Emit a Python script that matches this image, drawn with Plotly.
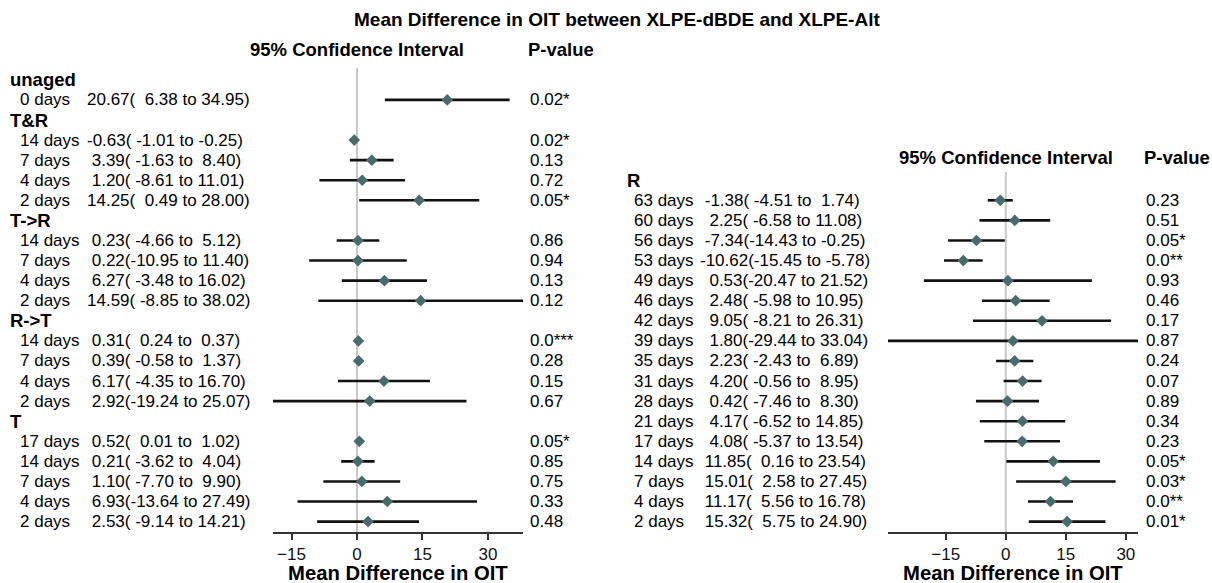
import plotly.graph_objects as go

W, H = 1212, 583
NB = "\u00a0"
FONT = "Liberation Sans, Arial, Helvetica, sans-serif"

# ---------------- Left panel data ----------------
unaged_days = ["0 days"]
unaged_est = [20.67]
unaged_lo = [6.38]
unaged_hi = [34.95]
unaged_p = ["0.02*"]

tr_days = ["14 days", "7 days", "4 days", "2 days"]
tr_est = [-0.63, 3.39, 1.20, 14.25]
tr_lo = [-1.01, -1.63, -8.61, 0.49]
tr_hi = [-0.25, 8.40, 11.01, 28.00]
tr_p = ["0.02*", "0.13", "0.72", "0.05*"]

t2r_days = ["14 days", "7 days", "4 days", "2 days"]
t2r_est = [0.23, 0.22, 6.27, 14.59]
t2r_lo = [-4.66, -10.95, -3.48, -8.85]
t2r_hi = [5.12, 11.40, 16.02, 38.02]
t2r_p = ["0.86", "0.94", "0.13", "0.12"]

r2t_days = ["14 days", "7 days", "4 days", "2 days"]
r2t_est = [0.31, 0.39, 6.17, 2.92]
r2t_lo = [0.24, -0.58, -4.35, -19.24]
r2t_hi = [0.37, 1.37, 16.70, 25.07]
r2t_p = ["0.0***", "0.28", "0.15", "0.67"]

t_days = ["17 days", "14 days", "7 days", "4 days", "2 days"]
t_est = [0.52, 0.21, 1.10, 6.93, 2.53]
t_lo = [0.01, -3.62, -7.70, -13.64, -9.14]
t_hi = [1.02, 4.04, 9.90, 27.49, 14.21]
t_p = ["0.05*", "0.85", "0.75", "0.33", "0.48"]

# ---------------- Right panel data ----------------
r_days = ["63 days", "60 days", "56 days", "53 days", "49 days", "46 days", "42 days",
          "39 days", "35 days", "31 days", "28 days", "21 days", "17 days", "14 days",
          "7 days", "4 days", "2 days"]
r_est = [-1.38, 2.25, -7.34, -10.62, 0.53, 2.48, 9.05, 1.80, 2.23, 4.20, 0.42,
         4.17, 4.08, 11.85, 15.01, 11.17, 15.32]
r_lo = [-4.51, -6.58, -14.43, -15.45, -20.47, -5.98, -8.21, -29.44, -2.43, -0.56,
        -7.46, -6.52, -5.37, 0.16, 2.58, 5.56, 5.75]
r_hi = [1.74, 11.08, -0.25, -5.78, 21.52, 10.95, 26.31, 33.04, 6.89, 8.95, 8.30,
        14.85, 13.54, 23.54, 27.45, 16.78, 24.90]
r_p = ["0.23", "0.51", "0.05*", "0.0**", "0.93", "0.46", "0.17", "0.87", "0.24",
       "0.07", "0.89", "0.34", "0.23", "0.05*", "0.03*", "0.0**", "0.01*"]

tick_vals = [-15, 0, 15, 30]
main_title = "Mean Difference in OIT between XLPE-dBDE and XLPE-Alt"
ci_header = "95% Confidence Interval"
p_header = "P-value"
axis_title = "Mean Difference in OIT"

left_groups = [
    ("unaged", unaged_days, unaged_est, unaged_lo, unaged_hi, unaged_p),
    ("T&R", tr_days, tr_est, tr_lo, tr_hi, tr_p),
    ("T->R", t2r_days, t2r_est, t2r_lo, t2r_hi, t2r_p),
    ("R->T", r2t_days, r2t_est, r2t_lo, r2t_hi, r2t_p),
    ("T", t_days, t_est, t_lo, t_hi, t_p),
]
right_groups = [("R", r_days, r_est, r_lo, r_hi, r_p)]


def ci_text(e, lo, hi, ew):
    s = f"{e:{ew}.2f}({lo:6.2f} to {hi:5.2f})"
    return s.replace(" ", NB)


def px(x):
    return x / W


def py(y):
    return (H - y) / H


def build(groups):
    rows = []
    i = 0
    for g, days, est, lo, hi, p in groups:
        rows.append(("group", i, g, None, None, None, None))
        i += 1
        for d, e, l, h, pv in zip(days, est, lo, hi, p):
            rows.append(("row", i, d, e, l, h, pv))
            i += 1
    return rows, i


fig = go.Figure()
annotations = []
shapes = []

panels = [
    dict(groups=left_groups, xa="x", ya="y", xdom=(273, 523), ytop=68,
         grp_x=8, lab_x=18, ci_x=85, ew=5, p_x=528, hdr_y=49),
    dict(groups=right_groups, xa="x2", ya="y2", xdom=(888, 1138), ytop=172,
         grp_x=625, lab_x=632, ci_x=698, ew=6, p_x=1144, hdr_y=157),
]

BOTTOM = 532
ROW = 20.08
TXT = 17

layout_axes = {}
for k, pn in enumerate(panels):
    rows, n = build(pn["groups"])
    data_rows = [r for r in rows if r[0] == "row"]
    ys = [-r[1] for r in data_rows]
    est = [r[3] for r in data_rows]
    lo = [r[4] for r in data_rows]
    hi = [r[5] for r in data_rows]
    fig.add_trace(go.Scatter(
        x=est, y=ys, mode="markers", xaxis=pn["xa"], yaxis=pn["ya"],
        marker=dict(symbol="diamond", size=9, color="#4a6b6b", line=dict(width=0)),
        error_x=dict(type="data", symmetric=False,
                     array=[h - e for h, e in zip(hi, est)],
                     arrayminus=[e - l for e, l in zip(est, lo)],
                     color="#111111", thickness=2.6, width=0),
        hoverinfo="skip", cliponaxis=False,
    ))
    ytop_val = (BOTTOM - 10.4 - (n - 1) * ROW - pn["ytop"]) / ROW
    yrange = [-(n - 1) - 10.4 / ROW, ytop_val]
    suffix = "" if k == 0 else "2"
    layout_axes["xaxis" + suffix] = dict(
        domain=[px(pn["xdom"][0]), px(pn["xdom"][1])],
        range=[min(lo), max(hi)], anchor="y" + suffix,
        showline=True, linecolor="#333333", linewidth=1.6,
        ticks="outside", ticklen=6, tickwidth=1.6, tickcolor="#333333",
        tickvals=tick_vals, tickfont=dict(family=FONT, size=17, color="#111111"),
        showgrid=False, zeroline=False, fixedrange=True,
    )
    layout_axes["yaxis" + suffix] = dict(
        domain=[(H - BOTTOM) / H, (H - pn["ytop"]) / H],
        range=yrange, anchor="x" + suffix, visible=False, fixedrange=True,
    )
    shapes.append(dict(type="line", xref=pn["xa"], yref=pn["ya"] + " domain",
                       x0=0, x1=0, y0=0, y1=1, layer="below",
                       line=dict(color="#c8c8c8", width=2)))
    for r in rows:
        kind, i = r[0], r[1]
        if kind == "group":
            annotations.append(dict(text=f"<b>{r[2]}</b>", xref="paper", yref=pn["ya"],
                                    x=px(pn["grp_x"]), y=-i, xanchor="left", yanchor="middle",
                                    showarrow=False, font=dict(family=FONT, size=18.5, color="#000")))
        else:
            annotations.append(dict(text=r[2].replace(" ", NB), xref="paper", yref=pn["ya"],
                                    x=px(pn["lab_x"]), y=-i, xanchor="left", yanchor="middle",
                                    showarrow=False, font=dict(family=FONT, size=TXT, color="#000")))
            annotations.append(dict(text=ci_text(r[3], r[4], r[5], pn["ew"]), xref="paper",
                                    yref=pn["ya"], x=px(pn["ci_x"]), y=-i, xanchor="left",
                                    yanchor="middle", showarrow=False,
                                    font=dict(family=FONT, size=TXT, color="#000")))
            annotations.append(dict(text=r[6], xref="paper", yref=pn["ya"],
                                    x=px(pn["p_x"]), y=-i, xanchor="left", yanchor="middle",
                                    showarrow=False, font=dict(family=FONT, size=TXT, color="#000")))
    annotations.append(dict(text=f"<b>{ci_header}</b>", xref=pn["xa"], yref="paper",
                            x=0, y=py(pn["hdr_y"]), xanchor="center", yanchor="middle",
                            showarrow=False, font=dict(family=FONT, size=18.5, color="#000")))
    annotations.append(dict(text=f"<b>{p_header}</b>", xref="paper", yref="paper",
                            x=px(pn["p_x"] - 2), y=py(pn["hdr_y"]), xanchor="left", yanchor="middle",
                            showarrow=False, font=dict(family=FONT, size=18.5, color="#000")))
    annotations.append(dict(text=f"<b>{axis_title}</b>", xref=pn["xa"] + " domain", yref="paper",
                            x=0.5, y=py(573), xanchor="center", yanchor="middle",
                            showarrow=False, font=dict(family=FONT, size=20.3, color="#000")))

annotations.append(dict(text=f"<b>{main_title}</b>", xref="paper", yref="paper",
                        x=px(617), y=py(19), xanchor="center", yanchor="middle",
                        showarrow=False, font=dict(family=FONT, size=19, color="#000")))

fig.update_layout(
    width=W, height=H, margin=dict(l=0, r=0, t=0, b=0, pad=0),
    plot_bgcolor="white", paper_bgcolor="white", showlegend=False,
    annotations=annotations, shapes=shapes, **layout_axes,
)

fig.write_html("out.html")
